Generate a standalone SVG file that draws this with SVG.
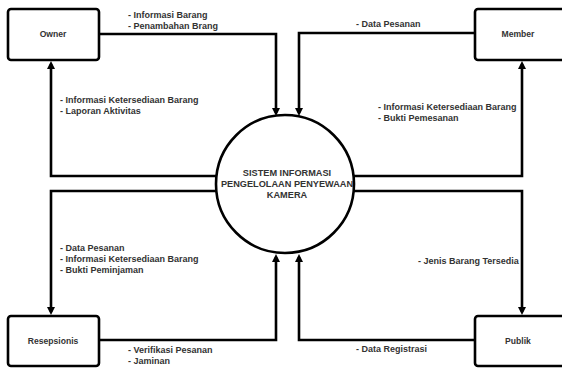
<svg xmlns="http://www.w3.org/2000/svg" width="562" height="368" viewBox="0 0 562 368">
  <defs>
    <marker id="arr" markerUnits="userSpaceOnUse" markerWidth="8" markerHeight="8" refX="5" refY="4" orient="auto">
      <path d="M0,0 L8,4 L0,8 z" fill="#000"/>
    </marker>
    <style>
      .box { fill: #fff; stroke: #000; stroke-width: 2.6; }
      .flow { fill: none; stroke: #000; stroke-width: 2.6; marker-end: url(#arr); }
      .lbl { font-family: "Liberation Sans", Arial, sans-serif; font-weight: bold; font-size: 9px; fill: #333; }
      .nm { font-family: "Liberation Sans", Arial, sans-serif; font-weight: bold; font-size: 8.6px; fill: #333; text-anchor: middle; }
      .pc { font-family: "Liberation Sans", Arial, sans-serif; font-weight: bold; font-size: 9.2px; fill: #333; text-anchor: middle; }
    </style>
  </defs>
  <rect width="562" height="368" fill="#fff"/>

  <g id="connectors">
    <path class="flow" d="M99,34 H276 V113"/>
    <path class="flow" d="M475,33 H299 V113"/>
    <path class="flow" d="M217,176 H51 V64"/>
    <path class="flow" d="M217,191 H51 V312"/>
    <path class="flow" d="M99,340 H276 V257"/>
    <path class="flow" d="M475,340 H299 V257"/>
    <path class="flow" d="M353,176 H522 V64"/>
    <path class="flow" d="M353,191 H522 V312"/>
  </g>

  <g id="labels">
    <text class="lbl" x="128" y="18">- Informasi Barang</text>
    <text class="lbl" x="128" y="29">- Penambahan Brang</text>
    <text class="lbl" x="60" y="103">- Informasi Ketersediaan Barang</text>
    <text class="lbl" x="60" y="114">- Laporan Aktivitas</text>
    <text class="lbl" x="356" y="27">- Data Pesanan</text>
    <text class="lbl" x="378" y="110">- Informasi Ketersediaan Barang</text>
    <text class="lbl" x="378" y="121">- Bukti Pemesanan</text>
    <text class="lbl" x="60" y="251">- Data Pesanan</text>
    <text class="lbl" x="60" y="262">- Informasi Ketersediaan Barang</text>
    <text class="lbl" x="60" y="273">- Bukti Peminjaman</text>
    <text class="lbl" x="418" y="264">- Jenis Barang Tersedia</text>
    <text class="lbl" x="128" y="353">- Verifikasi Pesanan</text>
    <text class="lbl" x="128" y="364">- Jaminan</text>
    <text class="lbl" x="356" y="352">- Data Registrasi</text>
  </g>

  <g id="process">
    <circle cx="285" cy="184" r="69" fill="#fff" stroke="#000" stroke-width="2.6"/>
    <text class="pc" x="287" y="176">SISTEM INFORMASI</text>
    <text class="pc" x="287" y="187">PENGELOLAAN PENYEWAAN</text>
    <text class="pc" x="287" y="198">KAMERA</text>
  </g>

  <g id="owner">
    <rect class="box" x="8" y="9" width="91" height="51" rx="3"/>
    <text class="nm" x="53" y="37">Owner</text>
  </g>
  <g id="member">
    <rect class="box" x="475" y="9" width="95" height="51" rx="3"/>
    <text class="nm" x="518" y="37">Member</text>
  </g>
  <g id="resepsionis">
    <rect class="box" x="8" y="316" width="91" height="50" rx="3"/>
    <text class="nm" x="53" y="344">Resepsionis</text>
  </g>
  <g id="publik">
    <rect class="box" x="475" y="316" width="95" height="50" rx="3"/>
    <text class="nm" x="518" y="344">Publik</text>
  </g>
</svg>
